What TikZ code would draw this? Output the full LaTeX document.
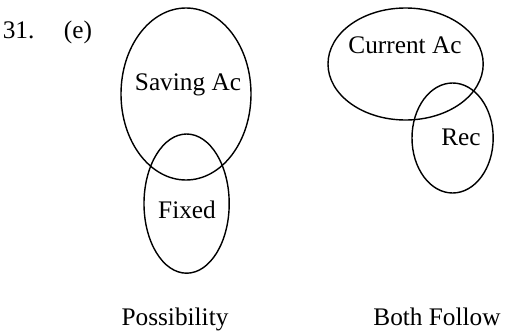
\documentclass[tikz,border=0pt]{standalone}
\usepackage{fontspec}
\setmainfont{Liberation Serif}
\usepackage{tikz}
\usetikzlibrary{shapes,positioning}

\begin{document}
\begin{tikzpicture}[
    set/.style={draw, ellipse, line width=2pt, inner sep=0pt},
    every node/.style={font=\fontsize{36}{43}\selectfont}
]
\useasboundingbox (0,0) rectangle (25.25,-16.65);
% question number
\node[anchor=base] (num) at (0.93,-1.9) {31.};
\node[anchor=base] (opt) at (3.9,-1.9) {(e)};
% first case
\node[set, minimum width=6.5cm, minimum height=8.6cm] (saving) at (9.3,-4.7) {};
\node[set, minimum width=4.26cm, minimum height=6.96cm] (fixed) at (9.33,-10.18) {};
\node (savingtxt) at (9.4,-4.25) {Saving Ac};
\node (fixedtxt) at (9.35,-10.5) {Fixed};
\node[anchor=base] (poss) at (8.75,-16.25) {Possibility};
% second case
\node[set, minimum width=7.76cm, minimum height=5.6cm] (current) at (20.28,-3.2) {};
\node[set, minimum width=4.06cm, minimum height=5.5cm] (rec) at (22.63,-6.9) {};
\node (currenttxt) at (20.25,-2.25) {Current Ac};
\node (rectxt) at (23.05,-6.85) {Rec};
\node[anchor=base] (both) at (21.85,-16.25) {Both Follow};
\end{tikzpicture}
\end{document}
